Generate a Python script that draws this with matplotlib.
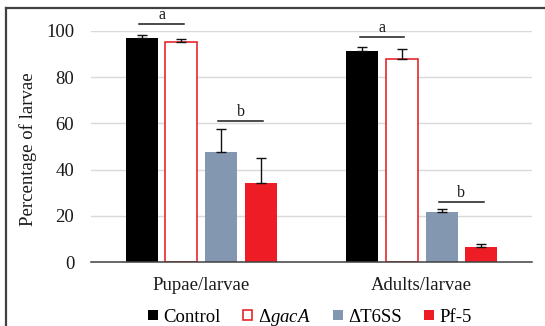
import numpy as np
import matplotlib.pyplot as plt
from matplotlib.lines import Line2D
from matplotlib.patches import Patch

plt.rcParams['font.family'] = ['Liberation Serif', 'DejaVu Serif']
plt.rcParams['mathtext.fontset'] = 'custom'
plt.rcParams['mathtext.rm'] = 'Liberation Serif'
plt.rcParams['mathtext.it'] = 'Liberation Serif:italic'

# ---------------- data ----------------
groups = ["Pupae/larvae", "Adults/larvae"]
strains = ["Control", "Δ$\\mathit{gacA}$", "ΔT6SS", "Pf-5"]
values = {
    "Control": [96.8, 91.1],
    "gacA":    [95.2, 88.0],
    "T6SS":    [47.5, 21.8],
    "Pf5":     [34.1, 6.4],
}
errors = {
    "Control": [1.5, 1.7],
    "gacA":    [1.3, 3.9],
    "T6SS":    [10.0, 1.4],
    "Pf5":     [11.1, 1.7],
}
# significance letters: (group, first bar, last bar, height, letter)
sig_marks = [
    (0, 0, 1, 102.8, "a"),
    (0, 2, 3, 61.2, "b"),
    (1, 0, 1, 97.1, "a"),
    (1, 2, 3, 26.2, "b"),
]
yticks = [0, 20, 40, 60, 80, 100]

# ---------------- style ----------------
keys = ["Control", "gacA", "T6SS", "Pf5"]
faces = ["#000000", "#ffffff", "#8497b0", "#ee1c25"]
edges = ["#000000", "#e8262b", "#8497b0", "#ee1c25"]
width = 0.145
offsets = [-0.27, -0.09, 0.09, 0.27]

fig = plt.figure(figsize=(5.45, 3.26), dpi=100)
ax = fig.add_axes([0.167, 0.1954, 0.809, 0.7104])

x = np.arange(len(groups))
for i, k in enumerate(keys):
    ax.bar(x + offsets[i], values[k], width, color=faces[i], edgecolor=edges[i],
           linewidth=1.2 if k == "gacA" else 0, zorder=3)
    ax.errorbar(x + offsets[i], values[k],
                yerr=[np.zeros(len(groups)), errors[k]],
                fmt="none", ecolor="#111111", elinewidth=1, capsize=3.5,
                capthick=1, zorder=4)

for g, b0, b1, h, letter in sig_marks:
    x0 = g + offsets[b0] - 0.012
    x1 = g + offsets[b1] + 0.012
    ax.plot([x0, x1], [h, h], color="#1a1a1a", lw=1.1, clip_on=False, zorder=5)
    ax.text((x0 + x1) / 2, h + 0.4, letter, ha="center", va="bottom",
            fontsize=11.5, color="#1a1a1a", clip_on=False)

ax.set_xlim(-0.5, 1.5)
ax.set_ylim(0, 100)
ax.set_yticks(yticks)
ax.set_xticks(x)
ax.set_xticklabels(groups, fontsize=13.5, color="#1a1a1a")
ax.tick_params(axis="y", length=0, pad=12, labelsize=13.5, labelcolor="#1a1a1a")
ax.tick_params(axis="x", length=0, pad=10.5)
ax.yaxis.grid(True, color="#d9d9d9", lw=1, zorder=0)
ax.set_axisbelow(True)
for s in ["top", "right", "left"]:
    ax.spines[s].set_visible(False)
ax.spines["bottom"].set_color("#404040")
ax.spines["bottom"].set_linewidth(1.1)
ax.spines["bottom"].set_zorder(6)

ax.set_ylabel("Percentage of larvae", fontsize=13.5, color="#1a1a1a")
ax.yaxis.set_label_coords(-0.122, 0.49)

handles = [Patch(facecolor=faces[i], edgecolor=edges[i],
                 linewidth=1.2 if keys[i] == "gacA" else 0) for i in range(4)]
fig.legend(handles, strains, loc="center", bbox_to_anchor=(310 / 545, 1 - 317 / 326),
           ncol=4, frameon=False, fontsize=13.5, handlelength=0.5, handleheight=0.5,
           handletextpad=0.3, columnspacing=1.2, borderpad=0, borderaxespad=0)

# outer frame (only top and left edges are visible in the crop)
fig.add_artist(Line2D([6 / 545, 6 / 545], [0, 1 - 8 / 326], color="#404040", lw=1.6))
fig.add_artist(Line2D([6 / 545, 544 / 545], [1 - 8 / 326, 1 - 8 / 326], color="#404040", lw=1.6))

fig.savefig("out.png", dpi=100)
